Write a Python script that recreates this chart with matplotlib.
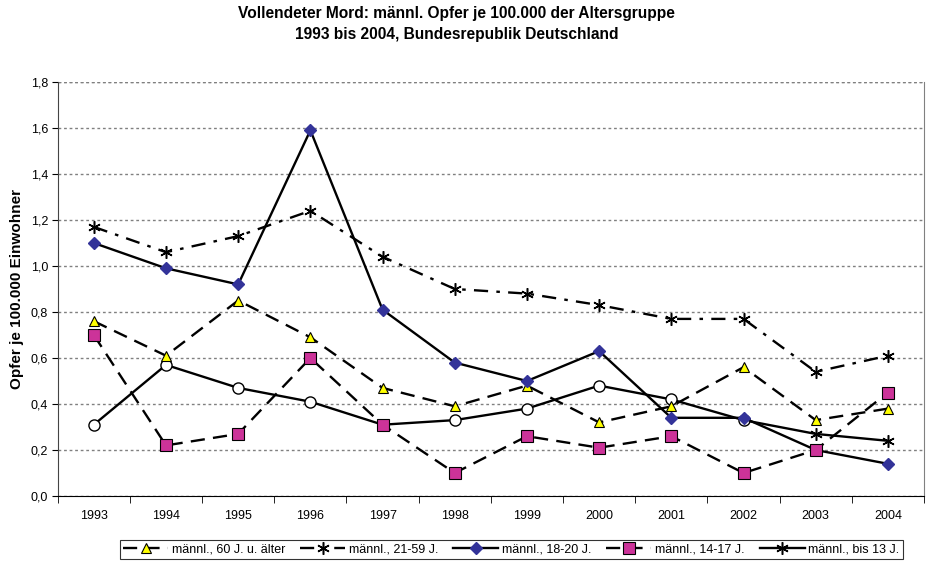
import matplotlib
matplotlib.use("Agg")
from matplotlib import pyplot as plt
from matplotlib.ticker import FuncFormatter, MultipleLocator
import numpy as np

plt.rcParams['font.family'] = ['Liberation Sans', 'DejaVu Sans']

years = [1993, 1994, 1995, 1996, 1997, 1998, 1999, 2000, 2001, 2002, 2003, 2004]

senior = [0.76, 0.61, 0.85, 0.69, 0.47, 0.39, 0.48, 0.32, 0.39, 0.56, 0.33, 0.38]
adult = [1.17, 1.06, 1.13, 1.24, 1.04, 0.90, 0.88, 0.83, 0.77, 0.77, 0.54, 0.61]
young_adult = [1.10, 0.99, 0.92, 1.59, 0.81, 0.58, 0.50, 0.63, 0.34, 0.34, 0.20, 0.14]
teen = [0.70, 0.22, 0.27, 0.60, 0.31, 0.10, 0.26, 0.21, 0.26, 0.10, 0.20, 0.45]
child = [0.31, 0.57, 0.47, 0.41, 0.31, 0.33, 0.38, 0.48, 0.42, 0.33, 0.27, 0.24]

labels = ['männl., 60 J. u. älter', 'männl., 21-59 J.', 'männl., 18-20 J.',
          'männl., 14-17 J.', 'männl., bis 13 J.']

title = ('Vollendeter Mord: männl. Opfer je 100.000 der Altersgruppe\n'
         '1993 bis 2004, Bundesrepublik Deutschland')
ylabel = 'Opfer je 100.000 Einwohner'

x = np.arange(len(years))
lw = 1.7
asterisk = (6, 2, 0)

fig = plt.figure(figsize=(9.28, 5.67), dpi=100)
ax = fig.add_axes([0.0622, 0.1252, 0.9335, 0.7302])

# bis 13 J.: line, open circles up to 2002, asterisks afterwards
child_arr = np.array(child)
late = np.array(years) >= 2003
ax.plot(x, child_arr, color='black', lw=lw, zorder=3)
ax.plot(x[~late], child_arr[~late], ls='none', marker='o', ms=8,
        mfc='white', mec='black', mew=1.0, zorder=3)
ax.plot(x[late], child_arr[late], ls='none', marker=asterisk, ms=9,
        mec='black', mew=1.1, zorder=3)

ax.plot(x, senior, color='black', lw=lw, dashes=(6, 3.5), marker='^', ms=7.5,
        mfc='#FFFF00', mec='black', mew=0.8, zorder=4)
ax.plot(x, adult, color='black', lw=lw, dashes=(6, 3.5, 1.5, 3.5), marker=asterisk,
        ms=9, mec='black', mew=1.1, zorder=4)
ax.plot(x, young_adult, color='black', lw=lw, marker='D', ms=6.5,
        mfc='#333399', mec='#333399', zorder=5)
ax.plot(x, teen, color='black', lw=lw, dashes=(6, 3.5), marker='s', ms=8,
        mfc='#CC3399', mec='black', mew=0.8, zorder=6)

# legend handles
h1, = ax.plot([], [], color='black', lw=lw, dashes=(6, 3.5), marker='^', ms=7.5,
              mfc='#FFFF00', mec='black', mew=0.8)
h2, = ax.plot([], [], color='black', lw=lw, dashes=(6, 3.5, 1.5, 3.5), marker=asterisk,
              ms=9, mec='black', mew=1.1)
h3, = ax.plot([], [], color='black', lw=lw, marker='D', ms=6.5,
              mfc='#333399', mec='#333399')
h4, = ax.plot([], [], color='black', lw=lw, dashes=(6, 3.5), marker='s', ms=8,
              mfc='#CC3399', mec='black', mew=0.8)
h5, = ax.plot([], [], color='black', lw=lw, marker=asterisk, ms=9,
              mec='black', mew=1.1)

ax.set_xlim(-0.5, len(years) - 0.5)
ax.set_ylim(0, 1.8)

ax.set_xticks(x)
ax.set_xticklabels([str(y) for y in years], fontsize=9)
ax.set_xticks(np.arange(len(years) + 1) - 0.5, minor=True)
ax.tick_params(axis='x', which='major', length=0, pad=10)
ax.tick_params(axis='x', which='minor', length=5, direction='out', color='black')

ax.yaxis.set_major_locator(MultipleLocator(0.2))
ax.yaxis.set_major_formatter(FuncFormatter(lambda v, p: f'{v:.1f}'.replace('.', ',')))
ax.tick_params(axis='y', length=4, direction='out', labelsize=9, pad=3)

ax.grid(axis='y', color='#808080', ls=(0, (2, 2)), lw=1.0, zorder=0)
ax.grid(axis='x', visible=False)

ax.spines['top'].set_visible(False)
ax.spines['left'].set_color('#444444')
ax.spines['bottom'].set_color('black')
ax.spines['right'].set_color('#808080')
ax.axhline(1.8, color='#808080', ls=(0, (2, 2)), lw=1.0, zorder=0)

ax.set_ylabel(ylabel, fontsize=11, fontweight='bold')
ax.yaxis.set_label_coords(-0.039, 0.5)

fig.text(0.492, 0.99, title, ha='center', va='top', fontsize=11.2,
         fontweight='bold', linespacing=1.5)

leg = fig.legend([h1, h2, h3, h4, h5], labels, loc='center',
                 bbox_to_anchor=(0.551, 0.031), ncol=5, fontsize=9,
                 frameon=True, fancybox=False, edgecolor='black',
                 handlelength=3.6, handletextpad=0.3, columnspacing=1.2,
                 borderpad=0.25, borderaxespad=0)
leg.get_frame().set_linewidth(0.8)

fig.savefig('out.png', dpi=100)
